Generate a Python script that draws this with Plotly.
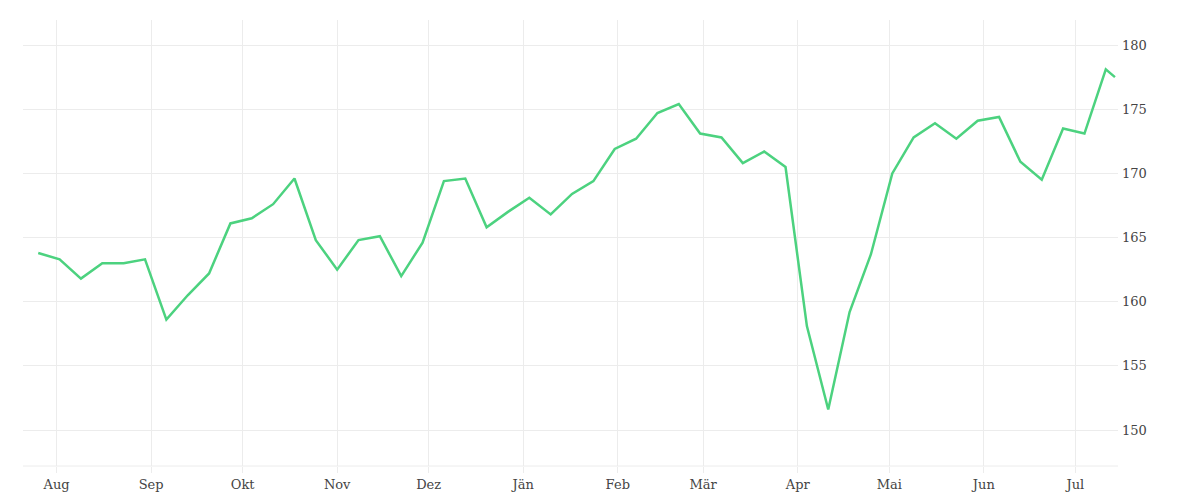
import pandas as pd
import plotly.graph_objects as go

dates = list(pd.date_range('2024-07-26', periods=51, freq='7D').strftime('%Y-%m-%d')) + ['2025-07-14']
values = [163.8, 163.3, 161.8, 163.0, 163.0, 163.3, 158.6, 160.5, 162.2, 166.1,
          166.5, 167.6, 169.6, 164.8, 162.5, 164.8, 165.1, 162.0, 164.6, 169.4,
          169.6, 165.8, 167.0, 168.1, 166.8, 168.4, 169.4, 171.9, 172.7, 174.7,
          175.4, 173.1, 172.8, 170.8, 171.7, 170.5, 158.1, 151.6, 159.2, 163.7,
          170.0, 172.8, 173.9, 172.7, 174.1, 174.4, 170.9, 169.5, 173.5, 173.1,
          178.1, 177.5]

month_ticks = ['2024-08-01', '2024-09-01', '2024-10-01', '2024-11-01', '2024-12-01', '2025-01-01',
               '2025-02-01', '2025-03-01', '2025-04-01', '2025-05-01', '2025-06-01', '2025-07-01']
month_labels = ['Aug', 'Sep', 'Okt', 'Nov', 'Dez', 'Jän', 'Feb', 'Mär', 'Apr', 'Mai', 'Jun', 'Jul']

fig = go.Figure()
fig.add_trace(go.Scatter(x=dates, y=values, mode='lines',
                         line=dict(color='#4cd27f', width=2.5)))

fig.update_layout(
    width=1200, height=500,
    margin=dict(l=15, r=90, t=12, b=42, autoexpand=False),
    plot_bgcolor='white', paper_bgcolor='white',
    showlegend=False,
    font=dict(family='DejaVu Serif, serif', size=13, color='#444'),
)
fig.update_xaxes(type='date', range=['2024-07-21', '2025-07-15'],
                 tickvals=month_ticks, ticktext=month_labels,
                 showgrid=True, gridcolor='#ececec', gridwidth=1,
                 ticks='outside', ticklen=6, tickcolor='#ececec',
                 zeroline=False, showline=False, automargin=False)
fig.update_yaxes(side='right', range=[147.2, 181.95], dtick=5,
                 showgrid=True, gridcolor='#ececec', zeroline=False,
                 ticks='', ticklabelstandoff=3, automargin=False)
# bottom line of the plot area
fig.add_shape(type='line', xref='paper', yref='paper', x0=0, x1=1, y0=0, y1=0,
              line=dict(color='#ececec', width=1))

fig.write_html("out.html")
